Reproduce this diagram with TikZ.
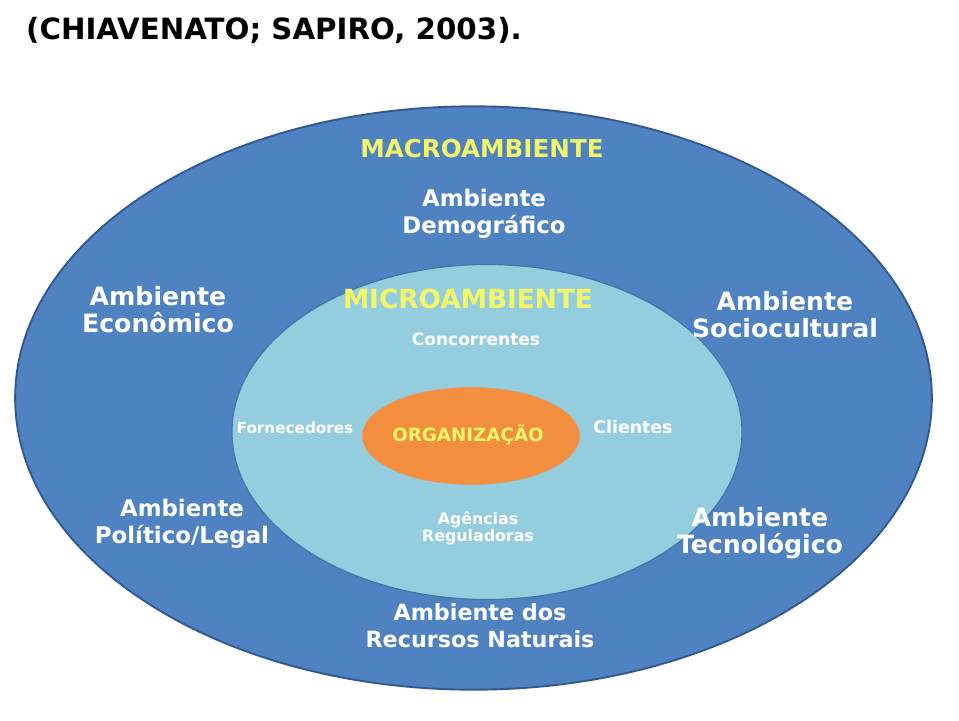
\documentclass[tikz,border=0pt]{standalone}
\usepackage{fontspec}
\setmainfont{DejaVu Sans}
\usetikzlibrary{shapes.geometric}
\definecolor{macroblue}{RGB}{79,130,192}
\definecolor{macroedge}{RGB}{50,88,145}
\definecolor{microblue}{RGB}{148,205,221}
\definecolor{microedge}{RGB}{70,115,170}
\definecolor{orgorange}{RGB}{242,142,62}
\definecolor{orgedge}{RGB}{232,150,90}
\definecolor{labelyellow}{RGB}{242,246,104}
\tikzset{
  ring/.style={ellipse,inner sep=0pt},
  biglabel/.style={font=\fontsize{#1}{23}\selectfont\bfseries,text=white,
                   align=center},
  biglabel/.default=19.5,
  smalllabel/.style={font=\fontsize{#1}{14.5}\selectfont\bfseries,text=white,
                     align=center},
  smalllabel/.default=13,
  headlabel/.style={font=\fontsize{#1}{24}\selectfont\bfseries,
                    text=labelyellow},
  headlabel/.default=21,
}
\begin{document}
\begin{tikzpicture}[x=0.03cm,y=-0.03cm]
  \useasboundingbox (0,0) rectangle (959,720);
  % titulo
  \node[anchor=west,font=\fontsize{25}{30}\selectfont\bfseries] (fonte)
    at (22,30) {(CHIAVENATO; SAPIRO, 2003).};
  % elipses
  \node[ring,draw=macroedge,line width=1.6pt,fill=macroblue,
        minimum width=27.5cm,minimum height=17.5cm] (macro) at (473.5,398) {};
  \node[ring,draw=microedge,line width=1pt,fill=microblue,
        minimum width=15.3cm,minimum height=10.05cm] (micro) at (487,432) {};
  \node[ring,draw=orgedge,line width=1pt,fill=orgorange,
        minimum width=6.5cm,minimum height=2.9cm] (org) at (471,436) {};
  % macroambiente
  \node[headlabel] (macrotit) at (482,149) {MACROAMBIENTE};
  \node[biglabel] (demog) at (484,214) {Ambiente\\Demográfico};
  \node[biglabel=21.5] (econ) at (158,310) {Ambiente\\Econômico};
  \node[biglabel=21.5] (socio) at (785,315) {Ambiente\\Sociocultural};
  \node[biglabel] (polit) at (182,524) {Ambiente\\Político/Legal};
  \node[biglabel=21.5] (tecno) at (760,533) {Ambiente\\Tecnológico};
  \node[biglabel=19] (recur) at (480,626) {Ambiente dos\\Recursos Naturais};
  % microambiente
  \node[headlabel=22.5] (microtit) at (468,299) {MICROAMBIENTE};
  \node[smalllabel=14.5] (conc) at (476,339) {Concorrentes};
  \node[smalllabel] (forn) at (295,428) {Fornecedores};
  \node[smalllabel=14.8] (clie) at (633,427) {Clientes};
  \node[smalllabel=13.5] (agen) at (478,528) {Agências\\Reguladoras};
  \node[font=\fontsize{15.6}{18}\selectfont\bfseries,text=labelyellow]
    (orgtit) at (468,435) {ORGANIZAÇÃO};
\end{tikzpicture}
\end{document}
